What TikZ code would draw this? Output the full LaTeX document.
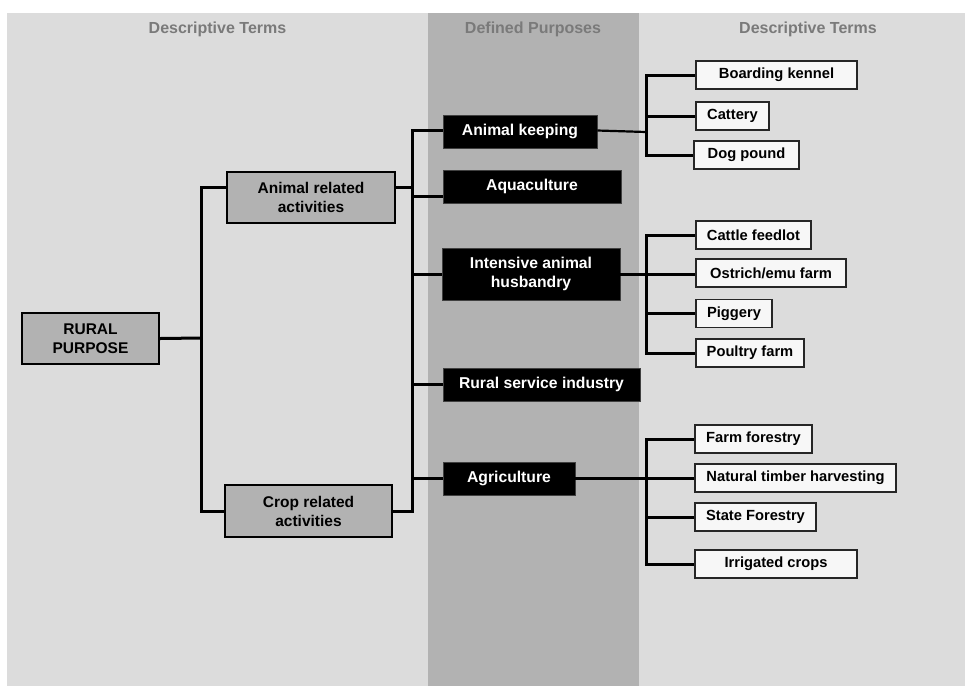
\documentclass[tikz,border=0pt]{standalone}
\usepackage{fontspec}
\setmainfont{Liberation Sans}
\definecolor{bgL}{HTML}{DCDCDC}
\definecolor{band}{HTML}{B2B2B2}
\definecolor{hdr}{HTML}{7A7A7A}
\definecolor{wbox}{HTML}{F7F7F7}
\begin{document}
\begin{tikzpicture}[x=1pt,y=-1pt,
  conn/.style={line width=3pt, line join=miter},
  graybox/.style={draw=black, line width=2pt, fill=band, align=center, inner sep=0pt,
    font=\bfseries\fontsize{15.5}{19}\selectfont},
  blackbox/.style={draw=black!75, line width=0.8pt, fill=black, text=white, align=center, inner sep=0pt,
    font=\bfseries\fontsize{15.7}{19}\selectfont},
  whitebox/.style={draw=black!85, line width=1.6pt, fill=wbox, align=center, inner sep=0pt,
    minimum height=28pt, font=\bfseries\fontsize{14.7}{18}\selectfont},
  hdrtext/.style={text=hdr, anchor=base, inner sep=0pt, font=\bfseries\fontsize{16}{19}\selectfont}]
\useasboundingbox (0,0) rectangle (965,686);
\fill[white] (0,0) rectangle (965,686);
\fill[bgL] (7,13) rectangle (965,686);
\fill[band] (428,13) rectangle (639,686);
% headers
\node[hdrtext] (h1) at (217.5,33.5) {Descriptive Terms};
\node[hdrtext] (h2) at (533,33.5) {Defined Purposes};
\node[hdrtext] (h3) at (808,33.5) {Descriptive Terms};
% left column
\node[graybox, minimum width=137pt, minimum height=51pt] (rural) at (90.5,338.5) {RURAL\\PURPOSE};
\node[graybox, minimum width=168pt, minimum height=51pt] (animalrel) at (311,197.5) {Animal related\\activities};
\node[graybox, minimum width=167pt, minimum height=52pt] (croprel) at (308.5,511) {Crop related\\activities};
% middle column
\node[blackbox, minimum width=154pt, minimum height=33pt] (akeep) at (520,131.5) {Animal keeping};
\node[blackbox, minimum width=178pt, minimum height=33pt] (aqua) at (532,186.5) {Aquaculture};
\node[blackbox, minimum width=178pt, minimum height=52pt] (intens) at (531,274) {Intensive animal\\husbandry};
\node[blackbox, minimum width=197pt, minimum height=33pt] (rsi) at (541.5,384.5) {Rural service industry};
\node[blackbox, minimum width=132pt, minimum height=33pt] (agri) at (509,478.5) {Agriculture};
% right column
\node[whitebox, minimum width=161pt] (boarding) at (776.5,75) {Boarding kennel};
\node[whitebox, minimum width=73pt] (cattery) at (732.5,116) {Cattery};
\node[whitebox, minimum width=105pt] (dogpound) at (746.5,155) {Dog pound};
\node[whitebox, minimum width=115pt] (cattle) at (753.5,235) {Cattle feedlot};
\node[whitebox, minimum width=150pt] (ostrich) at (771,273) {Ostrich/emu farm};
\node[whitebox, minimum width=76pt] (piggery) at (734,313.5) {Piggery};
\node[whitebox, minimum width=108pt] (poultry) at (750,353) {Poultry farm};
\node[whitebox, minimum width=117pt] (farmfor) at (753.5,439) {Farm forestry};
\node[whitebox, minimum width=201pt] (natural) at (795.5,478) {Natural timber harvesting};
\node[whitebox, minimum width=121pt] (state) at (755.5,517) {State Forestry};
\node[whitebox, minimum width=162pt] (irrig) at (776,564) {Irrigated crops};
% trunk coordinates
\coordinate (tL) at (201,338);
\coordinate (tM) at (412,0);
\coordinate (tR) at (646,0);
\coordinate (arW) at ([yshift=10.5pt]animalrel.west);
\coordinate (arE) at ([yshift=10.5pt]animalrel.east);
\coordinate (aqW) at ([yshift=-9.5pt]aqua.west);
\coordinate (akW) at ([yshift=1.5pt]akeep.west);
\coordinate (akR) at ([yshift=-0.5pt]akeep.east -| tR);
% left connectors
\draw[conn] (rural.east) -- (tL);
\draw[conn] (arW) -| (tL |- croprel.west) -- (croprel.west);
% middle connectors
\draw[conn] (akW) -| (tM |- croprel.east) -- (croprel.east);
\draw[conn] (arE) -- (arE -| tM);
\draw[conn] (aqW) -- (aqW -| tM);
\draw[conn] (intens.west) -- (intens.west -| tM);
\draw[conn] (rsi.west) -- (rsi.west -| tM);
\draw[conn] (agri.west) -- (agri.west -| tM);
% right connectors
\draw[line width=2.2pt] ([yshift=1pt]akeep.east) -- (akR);
\draw[conn] (boarding.west) -| (tR |- dogpound.west) -- (dogpound.west);
\draw[conn] (cattery.west) -- (cattery.west -| tR);
\draw[conn] (cattle.west) -| (tR |- poultry.west) -- (poultry.west);
\draw[conn] (piggery.west) -- (piggery.west -| tR);
\draw[conn] (intens.east) -- (intens.east -| ostrich.west);
\draw[conn] (farmfor.west) -| (tR |- irrig.west) -- (irrig.west);
\draw[conn] (state.west) -- (state.west -| tR);
\draw[conn] (agri.east) -- (agri.east -| natural.west);
\end{tikzpicture}
\end{document}
